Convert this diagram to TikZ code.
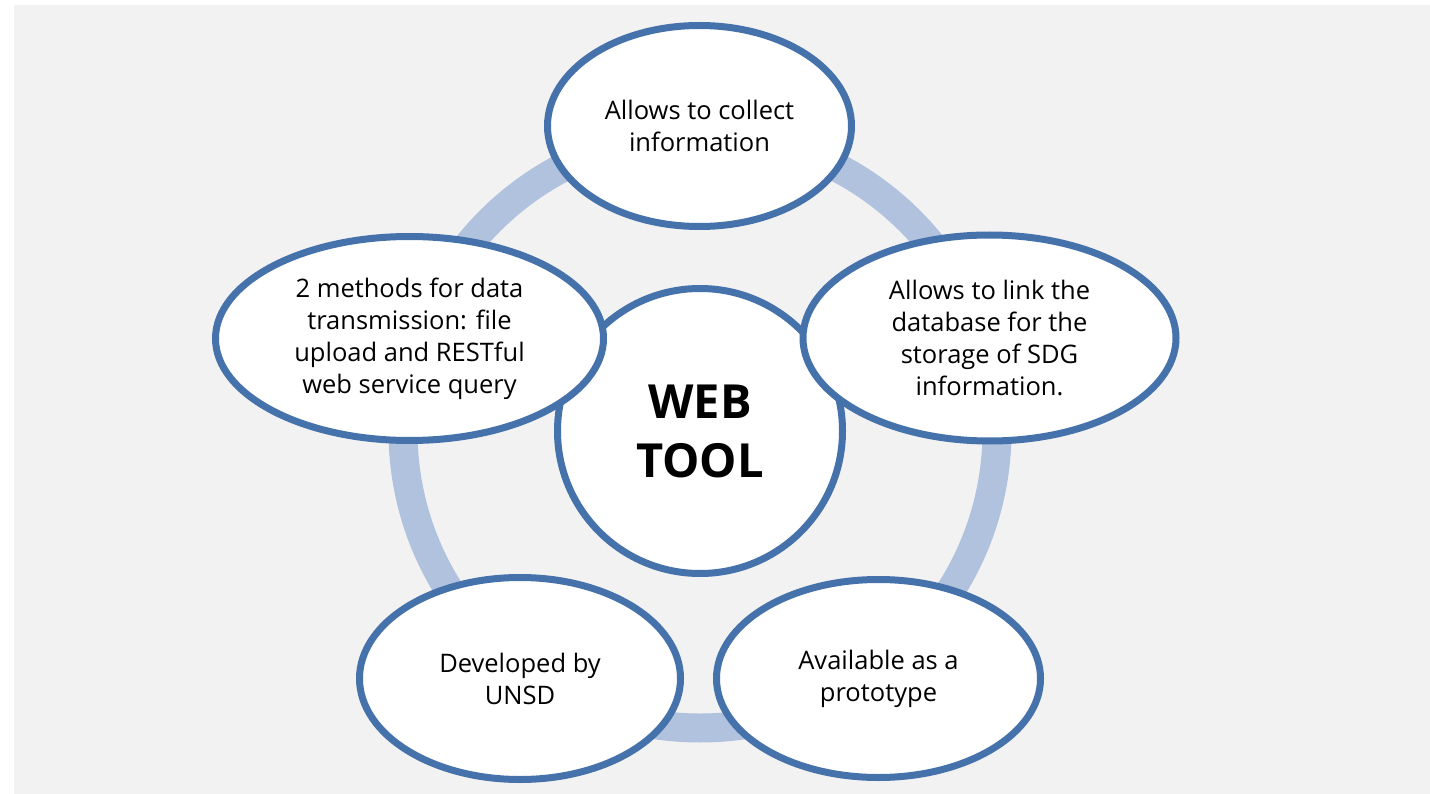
\documentclass[tikz,border=0pt]{standalone}
\usepackage{fontspec}
\setmainfont{Open Sans}
\usetikzlibrary{shapes.geometric}

\definecolor{rimblue}{RGB}{70,114,172}
\definecolor{ringblue}{RGB}{176,194,221}
\definecolor{paper}{RGB}{242,242,242}

\begin{document}
\begin{tikzpicture}[x=1pt,y=-1pt,
    bubble/.style={ellipse, draw=rimblue, line width=7pt, fill=white, inner sep=0pt,
        align=center, font=\fontsize{25.5}{32}\selectfont},
    hub/.style={circle, draw=rimblue, line width=7pt, fill=white, inner sep=0pt,
        minimum size=285pt, align=center, font=\fontsize{47}{59}\selectfont\bfseries}]
    % Page size and grey background
    \useasboundingbox (0,0) rectangle (1430,794);
    \fill[paper] (14,5) rectangle (1430,794);

    % The ring behind the bubbles
    \coordinate (hubc) at (700,431);
    \draw[ringblue, line width=29pt] (hubc) circle [radius=297];

    % Centre circle
    \node[hub] (web) at (hubc) {WEB\\TOOL};

    % Bubbles round the ring
    \node[bubble, minimum width=304, minimum height=201] (collect) at (699.5,126)
        {Allows to collect\\information};
    \node[bubble, minimum width=373, minimum height=206] (link) at (989.5,338)
        {Allows to link the\\database for the\\storage of SDG\\information.};
    \node[bubble, minimum width=388, minimum height=204] (methods) at (409.5,338.5)
        {2 methods for data\\transmission: file\\upload and RESTful\\web service query};
    \node[bubble, minimum width=321, minimum height=202] (unsd) at (520,678.5)
        {Developed by\\UNSD};
    \node[bubble, minimum width=324, minimum height=198] (proto) at (878.5,678.5)
        {Available as a\\prototype};

\end{tikzpicture}
\end{document}
